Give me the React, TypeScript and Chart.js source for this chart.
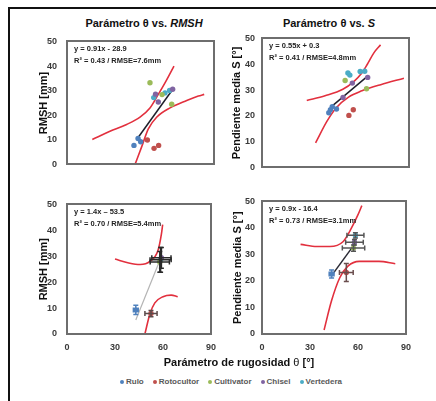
import React, { useEffect, useRef, useState } from "react";
import { Chart, registerables } from "chart.js";
Chart.register(...registerables);

// ---------- categories / colours ----------
const categories = ["Rulo", "Rotocultor", "Cultivator", "Chisel", "Vertedera"];
const catColors = ["#4F81BD", "#C0504D", "#9BBB59", "#8064A2", "#4BACC6"];

// ---------- axis ticks ----------
const xTicks = [0, 30, 60, 90];
const yTicks = [0, 10, 20, 30, 40, 50];

// ---------- Panel 1: θ vs RMSH (all samples) ----------
const p1X = [[43.5, 45.1, 41], [49.2, 56.1, 53.3], [50.8, 58.2, 64.1], [54.2, 55.9, 64.7], [53.1, 60, 62.8]];
const p1Y = [[10.6, 9.3, 7.8], [10, 7.8, 6.6], [33.2, 28.4, 24.5], [28.6, 25.4, 30.6], [27.2, 29.1, 30.1]];
const p1FitX = [43, 65];
const p1FitY = [10.5, 30.8];
const p1UpX = [15.5, 26.3, 36.5, 44.7, 50.8, 55.9, 60.6, 65.5];
const p1UpY = [10.2, 13.5, 16.3, 19.3, 23, 28.5, 33.9, 40];
const p1LoX = [41.6, 45.7, 49.8, 55, 63.1, 73.3, 80.4, 84];
const p1LoY = [0, 7.2, 14.5, 19.3, 23, 26, 27.8, 28.5];
const p1Eq = ["y = 0.91x - 28.9", "R² = 0.43 / RMSE=7.6mm"];

// ---------- Panel 2: θ vs S (all samples) ----------
const p2X = [[43, 41.9, 40.9, 45.6], [55.9, 53.2], [50.9, 64], [55.3, 64.7, 49.6], [52.6, 53.8, 60.1, 62.9]];
const p2Y = [[23.6, 22.4, 21.2, 22.7], [22.4, 20.2], [33.7, 30.5], [32.7, 34.9, 27.1], [36.6, 35.8, 37.2, 37.3]];
const p2FitX = [42.5, 64.5];
const p2FitY = [23.6, 35.3];
const p2UpX = [27.4, 38.6, 49.5, 56.5, 61, 64.5, 68.6, 72.6];
const p2UpY = [26, 27.8, 30.3, 33.5, 36.5, 40, 44.5, 47.5];
const p2LoX = [32.8, 39.9, 45.5, 53, 61.2, 72.7, 86.9];
const p2LoY = [9.6, 18.1, 23.2, 27.3, 29.7, 32.1, 34.6];
const p2Eq = ["y = 0.55x + 0.3", "R² = 0.41 / RMSE=4.8mm"];

// ---------- Panel 3: θ vs RMSH (means ± sd) ----------
const p3X = [[43], [52.5], [58], [59], [58.5]];
const p3Y = [[9.3], [7.9], [27.8], [29.4], [28.6]];
const p3ErrX = [[1.5], [3.8], [6], [6], [6.6]];
const p3ErrY = [[1.8], [1.2], [4], [4], [4.8]];
const p3FitX = [43, 59];
const p3FitY = [5.4, 29.9];
const p3UpX = [30, 38.6, 45.7, 51.8, 56.9, 59, 59.8];
const p3UpY = [28.9, 27.4, 26.8, 28, 32.3, 38.5, 42.2];
const p3LoX = [48.8, 51.8, 54.9, 60, 65.1, 69.2];
const p3LoY = [0.3, 7.7, 12, 14.4, 15, 14.4];
const p3Eq = ["y = 1.4x – 53.5", "R² = 0.70 / RMSE=5.4mm"];

// ---------- Panel 4: θ vs S (means ± sd) ----------
const p4X = [[43.5], [52.7], [57.2], [57.8], [58.4]];
const p4Y = [[22.6], [23.2], [32.4], [34.6], [37.2]];
const p4ErrX = [[1.5], [4.3], [7], [5.5], [5.3]];
const p4ErrY = [[1.5], [3.4], [1.2], [1], [1]];
const p4FitX = [43.5, 58];
const p4FitY = [22, 34];
const p4UpX = [24.1, 34.3, 42.4, 50.6, 55.7, 59.8, 62.4];
const p4UpY = [33.8, 33, 33, 34.8, 39.7, 44.7, 48.4];
const p4LoX = [38.8, 43.5, 48.6, 53.7, 60.8, 73.1, 83.3];
const p4LoY = [1.5, 12.6, 21.2, 25.6, 27.4, 27.4, 26.5];
const p4Eq = ["y = 0.9x - 16.4", "R² = 0.73 / RMSE=3.1mm"];

const FONT = '"Liberation Sans", Arial, sans-serif';
const CURVE = "rgb(226,48,62)";
const FRAME = "#6e6e6e";

const zip = (xs: number[], ys: number[]) => xs.map((x, i) => ({ x, y: ys[i] }));

const decorPlugin = {
  id: "decorFrame",
  afterDraw(chart: any) {
    const ctx: CanvasRenderingContext2D = chart.ctx;
    const a = chart.chartArea;
    const L = Math.round(a.left) - 1;
    const T = Math.round(a.top) - 1;
    const W = Math.round(a.right - a.left) + 2;
    const H = Math.round(a.bottom - a.top) + 2;
    ctx.save();
    ctx.fillStyle = FRAME;
    ctx.fillRect(L, T, W, 2);
    ctx.fillRect(L, T + H - 2, W, 2);
    ctx.fillRect(L, T, 2, H);
    ctx.fillRect(L + W - 2, T, 2, H);
    const lines: string[] = (chart.config as any)._eqLines || [];
    ctx.font = `bold 7.5px ${FONT}`;
    ctx.fillStyle = "#222";
    ctx.textBaseline = "middle";
    lines.forEach((t, i) => ctx.fillText(t, a.left + 7, a.top + 8 + i * 12));
    ctx.restore();
  },
};

const errPlugin = {
  id: "errBars",
  afterDatasetsDraw(chart: any) {
    const { ctx } = chart;
    const xs = chart.scales.x;
    const ys = chart.scales.y;
    chart.data.datasets.forEach((ds: any) => {
      if (!ds.errX) return;
      ds.data.forEach((p: any, i: number) => {
        const px = xs.getPixelForValue(p.x);
        const py = ys.getPixelForValue(p.y);
        const x1 = xs.getPixelForValue(p.x - ds.errX[i]);
        const x2 = xs.getPixelForValue(p.x + ds.errX[i]);
        const y1 = ys.getPixelForValue(p.y + ds.errY[i]);
        const y2 = ys.getPixelForValue(p.y - ds.errY[i]);
        const c = 2.5;
        ctx.save();
        ctx.strokeStyle = ds.errColor;
        ctx.lineWidth = 1.5;
        ctx.beginPath();
        ctx.moveTo(x1, py); ctx.lineTo(x2, py);
        ctx.moveTo(px, y1); ctx.lineTo(px, y2);
        ctx.moveTo(x1, py - c); ctx.lineTo(x1, py + c);
        ctx.moveTo(x2, py - c); ctx.lineTo(x2, py + c);
        ctx.moveTo(px - c, y1); ctx.lineTo(px + c, y1);
        ctx.moveTo(px - c, y2); ctx.lineTo(px + c, y2);
        ctx.stroke();
        ctx.restore();
      });
    });
  },
};

type PanelSpec = {
  left: number; top: number; width: number; height: number;
  yWidth: number; yTickPad: number; yTitle: string; yTitlePad: number;
  showX: boolean; pad: { top: number; right: number; bottom: number; left: number };
  xs: number[][]; ys: number[][]; ex?: number[][]; ey?: number[][]; errColors?: string[];
  fitX: number[]; fitY: number[]; fitColor: string; fitWidth: number;
  upX: number[]; upY: number[]; loX: number[]; loY: number[]; eq: string[];
};

const errDark = ["#4F81BD", "#5a4a4a", "#2a2a2a", "#2a2a2a", "#2a2a2a"];
const errGray = ["#4F81BD", "#6a4d4d", "#555", "#555", "#555"];

const panels: PanelSpec[] = [
  {
    left: 33, top: 26, width: 191, height: 154, yWidth: 34, yTickPad: 10, yTitle: "RMSH [mm]", yTitlePad: 4,
    showX: false, pad: { top: 10, right: 10, bottom: 0, left: 0 },
    xs: p1X, ys: p1Y, fitX: p1FitX, fitY: p1FitY, fitColor: "#1e1e2a", fitWidth: 1.5,
    upX: p1UpX, upY: p1UpY, loX: p1LoX, loY: p1LoY, eq: p1Eq,
  },
  {
    left: 227, top: 26, width: 192, height: 154, yWidth: 35, yTickPad: 7, yTitle: "Pendiente media S [°]", yTitlePad: 3,
    showX: false, pad: { top: 10, right: 10, bottom: 0, left: 0 },
    xs: p2X, ys: p2Y, fitX: p2FitX, fitY: p2FitY, fitColor: "#1e1e2a", fitWidth: 1.5,
    upX: p2UpX, upY: p2UpY, loX: p2LoX, loY: p2LoY, eq: p2Eq,
  },
  {
    left: 33, top: 189, width: 191, height: 165, yWidth: 34, yTickPad: 10, yTitle: "RMSH [mm]", yTitlePad: 4,
    showX: true, pad: { top: 10, right: 10, bottom: 0, left: 0 },
    xs: p3X, ys: p3Y, ex: p3ErrX, ey: p3ErrY, errColors: errDark,
    fitX: p3FitX, fitY: p3FitY, fitColor: "#b4b4b4", fitWidth: 1.2,
    upX: p3UpX, upY: p3UpY, loX: p3LoX, loY: p3LoY, eq: p3Eq,
  },
  {
    left: 227, top: 189, width: 192, height: 165, yWidth: 35, yTickPad: 7, yTitle: "Pendiente media S [°]", yTitlePad: 4,
    showX: true, pad: { top: 10, right: 10, bottom: 0, left: 0 },
    xs: p4X, ys: p4Y, ex: p4ErrX, ey: p4ErrY, errColors: errGray,
    fitX: p4FitX, fitY: p4FitY, fitColor: "#2a2a35", fitWidth: 1.5,
    upX: p4UpX, upY: p4UpY, loX: p4LoX, loY: p4LoY, eq: p4Eq,
  },
];

type Area = { left: number; top: number; right: number; bottom: number };

function Panel({ spec }: { spec: PanelSpec }) {
  const ref = useRef<HTMLCanvasElement>(null);
  const [area, setArea] = useState<Area | null>(null);
  useEffect(() => {
    const s = spec;
    const datasets: any[] = categories.map((label, k) => ({
      label,
      data: zip(s.xs[k], s.ys[k]),
      backgroundColor: catColors[k],
      borderColor: catColors[k],
      pointRadius: 2.7,
      pointBorderWidth: 0,
      showLine: false,
      ...(s.ex ? { errX: s.ex[k], errY: s.ey![k], errColor: s.errColors![k] } : {}),
    }));
    datasets.push({
      label: "fit", data: zip(s.fitX, s.fitY), showLine: true, pointRadius: 0,
      borderColor: s.fitColor, borderWidth: s.fitWidth,
    });
    datasets.push({
      label: "upper", data: zip(s.upX, s.upY), showLine: true, pointRadius: 0,
      borderColor: CURVE, borderWidth: 1.6, cubicInterpolationMode: "monotone",
    });
    datasets.push({
      label: "lower", data: zip(s.loX, s.loY), showLine: true, pointRadius: 0,
      borderColor: CURVE, borderWidth: 1.6, cubicInterpolationMode: "monotone",
    });
    const tickFont = { family: FONT, size: 9, weight: "bold" };
    const config: any = {
      type: "scatter",
      data: { datasets },
      options: {
        animation: false,
        responsive: false,
        events: [],
        layout: { padding: s.pad },
        plugins: { legend: { display: false }, tooltip: { enabled: false } },
        scales: {
          x: {
            type: "linear", position: "bottom", min: xTicks[0], max: xTicks[xTicks.length - 1],
            grid: { display: false, drawTicks: false },
            border: { display: false },
            afterBuildTicks: (sc: any) => { sc.ticks = xTicks.map((v) => ({ value: v })); },
            ticks: { display: s.showX, padding: 8, color: "#3a3a3a", font: tickFont },
            afterFit: (sc: any) => { sc.height = s.showX ? 20 : 7; },
          },
          y: {
            type: "linear", position: "left", min: yTicks[0], max: yTicks[yTicks.length - 1],
            grid: { display: false, drawTicks: false },
            border: { display: false },
            afterBuildTicks: (sc: any) => { sc.ticks = yTicks.map((v) => ({ value: v })); },
            ticks: { padding: s.yTickPad, color: "#3a3a3a", font: tickFont },
            title: {
              display: true, text: s.yTitle, color: "#111",
              padding: { top: s.yTitlePad, bottom: 0 },
              font: { family: FONT, size: 11, weight: "bold" },
            },
            afterFit: (sc: any) => { sc.width = s.yWidth; },
          },
        },
      },
      plugins: [errPlugin, decorPlugin],
    };
    const chart: any = new Chart(ref.current!, config);
    chart.config._eqLines = s.eq;
    chart.draw();
    const a = chart.chartArea;
    setArea({ left: a.left, top: a.top, right: a.right, bottom: a.bottom });
    return () => chart.destroy();
  }, [spec]);
  return (
    <>
      <canvas
        ref={ref}
        width={spec.width}
        height={spec.height}
        style={{ position: "absolute", left: spec.left, top: spec.top, width: spec.width, height: spec.height }}
      />
      {area && (
        <div
          style={{
            position: "absolute",
            left: spec.left + Math.round(area.left) - 1,
            top: spec.top + Math.round(area.top) - 1,
            width: Math.round(area.right - area.left) + 2,
            height: Math.round(area.bottom - area.top) + 2,
            boxSizing: "border-box",
            border: `2px solid ${FRAME}`,
            pointerEvents: "none",
          }}
        />
      )}
    </>
  );
}

export default function App() {
  const titleStyle: React.CSSProperties = {
    position: "absolute", top: 16, width: 150, textAlign: "center",
    font: `bold 11px ${FONT}`, lineHeight: "14px", color: "#111", whiteSpace: "nowrap",
  };
  return (
    <div style={{ position: "absolute", left: 0, top: 0, width: 436, height: 401, overflow: "hidden", background: "#fff", fontFamily: FONT }}>
      <div style={{ position: "absolute", left: 8, top: 7, width: 440, height: 400, borderLeft: "2px solid #111", borderTop: "2px solid #111" }} />
      <div style={{ ...titleStyle, left: 69 }}>Parámetro θ vs. <i>RMSH</i></div>
      <div style={{ ...titleStyle, left: 254 }}>Parámetro θ vs. <i>S</i></div>
      {panels.map((p, i) => (
        <Panel key={i} spec={p} />
      ))}
      <div style={{ position: "absolute", left: 139, top: 355, width: 200, textAlign: "center", font: `bold 11px ${FONT}`, lineHeight: "14px", color: "#111", whiteSpace: "nowrap" }}>
        Parámetro de rugosidad <span style={{ fontWeight: "normal" }}>θ</span> [°]
      </div>
      <div style={{ position: "absolute", left: 0, top: 376, width: 462, textAlign: "center", font: `bold 8px ${FONT}`, lineHeight: "12px", color: "#595959", whiteSpace: "nowrap" }}>
        {categories.map((c, k) => (
          <span key={c} style={{ marginRight: k < categories.length - 1 ? 9 : 0 }}>
            <span style={{ display: "inline-block", width: 4, height: 4, borderRadius: 2, background: catColors[k], marginRight: 2, verticalAlign: "middle" }} />
            {c}
          </span>
        ))}
      </div>
    </div>
  );
}
